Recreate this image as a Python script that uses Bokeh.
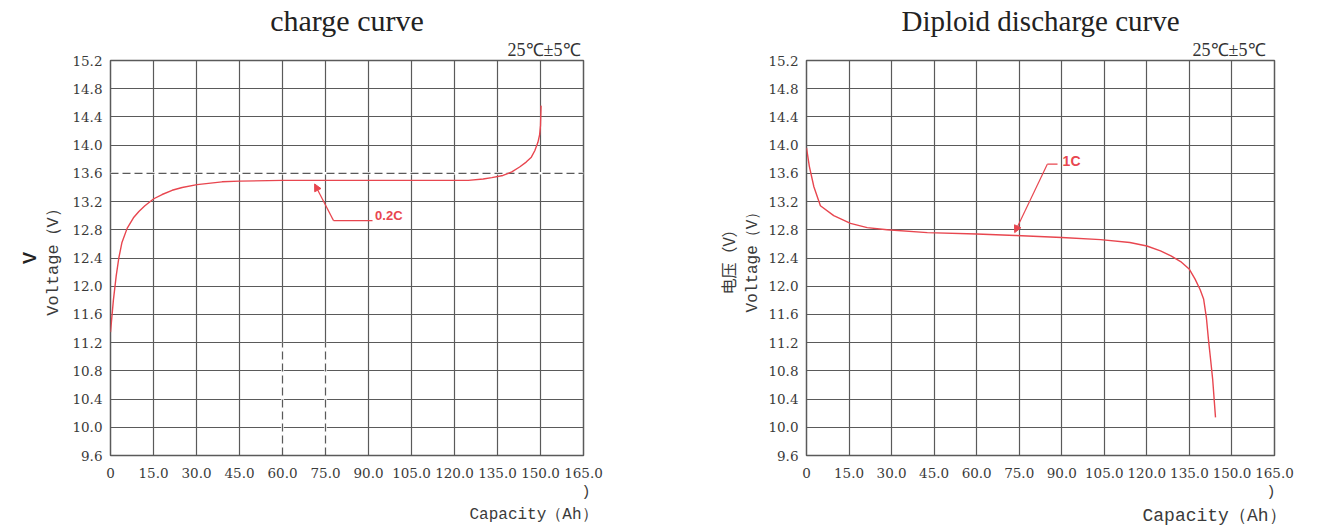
from bokeh.plotting import figure
from bokeh.layouts import row
from bokeh.models import (Range1d, FixedTicker, CustomJSTickFormatter, Label,
                          Arrow, NormalHead, Title, LinearAxis)
from bokeh.embed import file_html
from bokeh.resources import INLINE

# ---------------- data ----------------
x_ticks = [0, 15, 30, 45, 60, 75, 90, 105, 120, 135, 150, 165]
y_ticks = [9.6, 10.0, 10.4, 10.8, 11.2, 11.6, 12.0, 12.4, 12.8, 13.2, 13.6,
           14.0, 14.4, 14.8, 15.2]

charge_capacity = [0, 1, 2, 2.9, 4, 5.8, 8, 9.9, 12, 15.1, 18, 21.5, 25, 30.2,
                   38.9, 45, 60, 75, 90, 105, 120, 124.8, 130, 133, 136.9,
                   140, 142.7, 145, 146.8, 148, 149.1, 149.7, 150.0, 150.2]
charge_voltage = [11.35, 11.8, 12.15, 12.4, 12.62, 12.82, 12.97, 13.06, 13.14,
                  13.24, 13.3, 13.36, 13.4, 13.44, 13.48, 13.49, 13.5, 13.5,
                  13.5, 13.5, 13.5, 13.5, 13.52, 13.54, 13.57, 13.62, 13.69,
                  13.76, 13.83, 13.92, 14.04, 14.15, 14.28, 14.56]

discharge_capacity = [0, 1, 2.6, 4.9, 9.6, 15.5, 21.4, 28.4, 42.6, 60, 73.7,
                      90, 103.7, 114, 120, 124.8, 128.5, 131.9, 135, 137,
                      138.8, 140, 141, 141.7, 142.5, 143.2, 144.2]
discharge_voltage = [13.96, 13.7, 13.41, 13.14, 13.0, 12.89, 12.83, 12.8,
                     12.76, 12.74, 12.72, 12.69, 12.66, 12.62, 12.57, 12.5,
                     12.43, 12.35, 12.24, 12.1, 11.95, 11.82, 11.55, 11.25,
                     10.95, 10.68, 10.14]

charge_ref_voltage = 13.6
charge_ref_capacity = [60, 75]

# ---------------- styles ----------------
GRID = "#5a5a5a"
RED = "#e8464f"
TXT = "#3a3a3a"
MONO = "Liberation Mono"
SERIF = "Liberation Serif"
TICKFONT = "DejaVu Serif"

xfmt = CustomJSTickFormatter(code="return tick == 0 ? '0' : tick.toFixed(1);")
yfmt = CustomJSTickFormatter(code="return tick.toFixed(1);")


def base_fig(width, height, bl, br, bt, bb):
    p = figure(width=width, height=height, output_backend="svg", title=None,
               toolbar_location=None, x_range=Range1d(0, 165),
               y_range=Range1d(9.6, 15.2))
    p.min_border_left = bl
    p.min_border_right = br
    p.min_border_top = bt
    p.min_border_bottom = bb
    p.background_fill_color = "white"
    p.border_fill_color = "white"
    p.outline_line_color = GRID
    p.outline_line_width = 1.5
    p.xaxis.ticker = FixedTicker(ticks=x_ticks)
    p.yaxis.ticker = FixedTicker(ticks=y_ticks)
    p.xaxis.formatter = xfmt
    p.yaxis.formatter = yfmt
    for ax in (p.xaxis, p.yaxis):
        ax.axis_line_color = None
        ax.major_tick_line_color = None
        ax.minor_tick_line_color = None
        ax.major_tick_out = 0
        ax.minor_tick_out = 0
        ax.major_label_text_font = TICKFONT
        ax.major_label_text_font_size = "13.5px"
        ax.major_label_text_color = TXT
    p.xaxis.major_label_standoff = 12
    p.yaxis.major_label_standoff = 8
    for g in (p.xgrid, p.ygrid):
        g.grid_line_color = GRID
        g.grid_line_width = 1.2
    return p


def add_title(p, side, text, size, font, align, offset=0, standoff=2,
              color="#222"):
    p.add_layout(Title(text=text, text_font=font, text_font_size=size,
                       text_color=color, align=align, offset=offset,
                       standoff=standoff, text_font_style="normal"), side)


def style_axis_label(ax, text, font, size, standoff):
    ax.axis_label = text
    ax.axis_label_text_font = font
    ax.axis_label_text_font_size = size
    ax.axis_label_text_font_style = "normal"
    ax.axis_label_text_color = TXT
    ax.axis_label_standoff = standoff


def extra_left_axis(p, text, font, size, standoff, style="normal",
                    color=TXT):
    ax = LinearAxis(ticker=FixedTicker(ticks=[]), axis_line_color=None,
                    major_tick_line_color=None, minor_tick_line_color=None,
                    major_tick_out=0, minor_tick_out=0,
                    major_label_standoff=0,
                    major_label_text_font_size="0px")
    ax.axis_label = text
    ax.axis_label_text_font = font
    ax.axis_label_text_font_size = size
    ax.axis_label_text_font_style = style
    ax.axis_label_text_color = color
    ax.axis_label_standoff = standoff
    p.add_layout(ax, "left")


# ---------------- left: charge curve ----------------
p1 = base_fig(680, 528, 110, 97, 60, 73)

p1.segment(x0=[0], y0=[charge_ref_voltage], x1=[165], y1=[charge_ref_voltage],
           line_color="white", line_width=2.5)
p1.segment(x0=[0], y0=[charge_ref_voltage], x1=[165], y1=[charge_ref_voltage],
           line_color=GRID, line_width=1.2, line_dash="8 4")
p1.segment(x0=charge_ref_capacity, y0=[9.62, 9.62],
           x1=charge_ref_capacity, y1=[11.2, 11.2],
           line_color="white", line_width=2.5)
p1.segment(x0=charge_ref_capacity, y0=[9.6, 9.6],
           x1=charge_ref_capacity, y1=[11.2, 11.2],
           line_color=GRID, line_width=1.2, line_dash="8 4")

p1.line(charge_capacity, charge_voltage, line_color=RED, line_width=1.4)

p1.line([77.8, 91.4], [12.93, 12.93], line_color=RED, line_width=1.2)
p1.add_layout(Arrow(end=NormalHead(size=7, fill_color=RED, line_color=RED),
                    x_start=77.8, y_start=12.93, x_end=71.2, y_end=13.45,
                    line_color=RED, line_width=1.2))
p1.add_layout(Label(x=92.3, y=13.0, text="0.2C", text_font="Liberation Sans",
                    text_font_size="13px", text_color=RED,
                    text_font_style="bold", text_align="left",
                    text_baseline="middle"))

add_title(p1, "above", "25℃±5℃", "18px", SERIF, "right", offset=3,
          standoff=2, color="#333")
add_title(p1, "above", "charge curve", "30px", SERIF, "center", standoff=0)
add_title(p1, "below", ")", "15px", MONO, "right", offset=-7, standoff=2,
          color=TXT)
add_title(p1, "below", "Capacity（Ah）", "16px", MONO, "right", offset=-14,
          standoff=4, color=TXT)

style_axis_label(p1.yaxis[0], "Voltage（V）", MONO, "17px", 6)
extra_left_axis(p1, "V", "Liberation Sans", "18px", 2, style="bold",
                color="#222")

# ---------------- right: diploid discharge curve ----------------
p2 = base_fig(644, 528, 126, 50, 60, 73)

p2.line(discharge_capacity, discharge_voltage, line_color=RED, line_width=1.4)

p2.line([84.9, 88.5], [13.73, 13.73], line_color=RED, line_width=1.2)
p2.add_layout(Arrow(end=NormalHead(size=7, fill_color=RED, line_color=RED),
                    x_start=84.9, y_start=13.73, x_end=73.4, y_end=12.76,
                    line_color=RED, line_width=1.2))
p2.add_layout(Label(x=90.3, y=13.77, text="1C", text_font="Liberation Sans",
                    text_font_size="14px", text_color=RED,
                    text_font_style="bold", text_align="left",
                    text_baseline="middle"))

add_title(p2, "above", "25℃±5℃", "18px", SERIF, "right", offset=9,
          standoff=2, color="#333")
add_title(p2, "above", "Diploid discharge curve", "29px", SERIF, "center",
          standoff=0)
add_title(p2, "below", ")", "15px", MONO, "right", offset=-1, standoff=2,
          color=TXT)
add_title(p2, "below", "Capacity（Ah）", "18px", MONO, "right", offset=-12,
          standoff=4, color=TXT)

style_axis_label(p2.yaxis[0], "Voltage（V）", MONO, "16px", 3)
extra_left_axis(p2, "电压（V）", "Noto Sans CJK SC", "16px", 2)

layout = row(p1, p2)
open("out.html", "w").write(file_html(layout, INLINE))
